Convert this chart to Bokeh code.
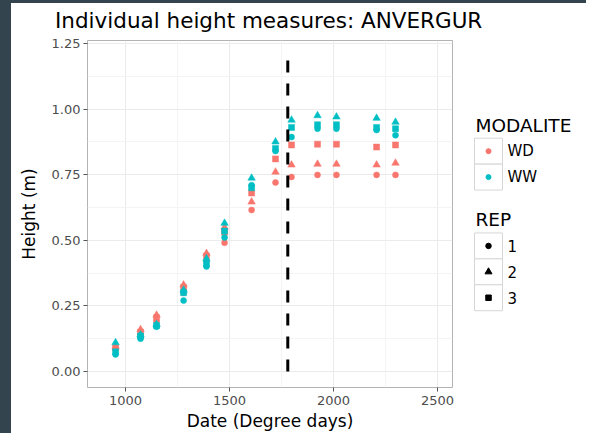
from bokeh.plotting import figure
from bokeh.layouts import row, column
from bokeh.models import Range1d, FixedTicker, PrintfTickFormatter, Div
from bokeh.core.properties import value
from bokeh.embed import file_html
from bokeh.resources import INLINE

# ---------------- data ----------------
dates = [952, 1072, 1149, 1279, 1389, 1476, 1606, 1721, 1798, 1923, 2014, 2207, 2298]

wd_rep1 = [0.085, 0.130, 0.190, 0.300, 0.420, 0.490, 0.615, 0.720, 0.741, 0.749, 0.749, 0.749, 0.749]
wd_rep2 = [0.095, 0.160, 0.215, 0.330, 0.450, 0.550, 0.646, 0.760, 0.787, 0.790, 0.790, 0.787, 0.794]
wd_rep3 = [0.090, 0.150, 0.205, 0.320, 0.440, 0.530, 0.680, 0.810, 0.863, 0.866, 0.866, 0.855, 0.863]
ww_rep1 = [0.065, 0.125, 0.170, 0.270, 0.400, 0.510, 0.710, 0.840, 0.893, 0.925, 0.925, 0.920, 0.900]
ww_rep2 = [0.110, 0.140, 0.180, 0.310, 0.430, 0.565, 0.737, 0.875, 0.958, 0.975, 0.970, 0.965, 0.950]
ww_rep3 = [0.075, 0.135, 0.175, 0.300, 0.410, 0.535, 0.700, 0.850, 0.930, 0.940, 0.940, 0.930, 0.925]

modalities = ["WD", "WW"]
reps = ["1", "2", "3"]
vline_date = 1780
vline_top = 1.2

x_ticks = [1000, 1500, 2000, 2500]
x_minor = [1250, 1750, 2250]
y_ticks = [0.0, 0.25, 0.5, 0.75, 1.0, 1.25]
y_minor = [0.125, 0.375, 0.625, 0.875, 1.125]

title_text = "Individual height measures: ANVERGUR"
x_label = "Date (Degree days)"
y_label = "Height (m)"
legend1_title = "MODALITE"
legend2_title = "REP"

# ---------------- style ----------------
COLORS = {"WD": "#F8766D", "WW": "#00BFC4"}
MARKERS = {"1": "circle", "2": "triangle", "3": "square"}
SIZES = {"1": 6, "2": 7.5, "3": 6}
FONT = "DejaVu Sans"
TXT = "#4D4D4D"
FRAME_DARK = "#34444E"
TITLE_H = 30
H_BODY = 430 - TITLE_H

p = figure(width=447, height=H_BODY, output_backend="svg", toolbar_location=None,
           title=None,
           x_range=Range1d(817, 2572), y_range=Range1d(-0.061, 1.261),
           min_border_left=76, min_border_right=6, min_border_top=7,
           min_border_bottom=45, background_fill_color="white",
           border_fill_color="white")

p.xaxis.ticker = FixedTicker(ticks=x_ticks, minor_ticks=x_minor)
p.yaxis.ticker = FixedTicker(ticks=y_ticks, minor_ticks=y_minor)
p.yaxis.formatter = PrintfTickFormatter(format="%.2f")
p.xaxis.axis_label = x_label
p.yaxis.axis_label = y_label
for ax in (p.xaxis, p.yaxis):
    ax.axis_line_color = None
    ax.minor_tick_line_color = None
    ax.major_tick_line_color = "#555555"
    ax.major_tick_in = 0
    ax.major_tick_out = 4
    ax.major_label_text_font = FONT
    ax.major_label_text_font_size = "13px"
    ax.major_label_text_color = TXT
    ax.axis_label_text_font = FONT
    ax.axis_label_text_font_size = "17px"
    ax.axis_label_text_font_style = "normal"
    ax.axis_label_text_color = "black"
p.xaxis.major_label_standoff = 4
p.yaxis.major_label_standoff = 3
p.xaxis.axis_label_standoff = 3
p.yaxis.axis_label_standoff = 10

p.grid.grid_line_color = "#EBEBEB"
p.grid.grid_line_width = 1
p.grid.minor_grid_line_color = "#F4F4F4"
p.grid.minor_grid_line_width = 1
p.outline_line_color = "#B3B3B3"
p.outline_line_width = 1

# ---------------- marks ----------------
series = {("WD", "1"): wd_rep1, ("WD", "2"): wd_rep2, ("WD", "3"): wd_rep3,
          ("WW", "1"): ww_rep1, ("WW", "2"): ww_rep2, ("WW", "3"): ww_rep3}
for (mod, rep), vals in series.items():
    p.scatter(x=dates, y=vals, marker=MARKERS[rep], size=SIZES[rep],
              fill_color=COLORS[mod], line_color=COLORS[mod], line_width=0.5)

p.segment(x0=[vline_date], y0=[0], x1=[vline_date], y1=[vline_top],
          line_color="black", line_width=3, line_dash="12 11", line_cap="butt")

# ---------------- legend panel (pixel coordinates, y up) ----------------
# its frame is aligned with the main plot's frame (picture y 40..388)
LW = 128
lf = figure(width=LW, height=H_BODY, output_backend="svg", toolbar_location=None,
            title=None, x_axis_type=None, y_axis_type=None,
            x_range=Range1d(0, LW), y_range=Range1d(45, 393),
            min_border=0, min_border_left=0, min_border_right=0,
            min_border_top=0, min_border_bottom=0,
            background_fill_color="white", border_fill_color="white")
lf.grid.visible = False
lf.outline_line_color = None

KEY_L, KEY_W, ROW_H = 16, 28, 26
LAB_X = KEY_L + KEY_W + 5
TITLE_X = KEY_L + 1


def draw_legend(title, top, labels, markers, colors, sizes):
    lf.text(x=[TITLE_X], y=[top + 13], text=[title], text_font=value(FONT),
            text_font_size="18.5px", text_color="black",
            text_align="left", text_baseline="middle")
    n = len(labels)
    tops = [top - i * ROW_H for i in range(n)]
    centers = [t - ROW_H / 2 for t in tops]
    lf.quad(left=[KEY_L] * n, right=[KEY_L + KEY_W] * n,
            top=tops, bottom=[t - ROW_H for t in tops],
            fill_color="white", line_color="#D6D6D6", line_width=1)
    for lab, mk, col, sz, cy in zip(labels, markers, colors, sizes, centers):
        lf.scatter(x=[KEY_L + KEY_W / 2], y=[cy], marker=mk, size=sz,
                   fill_color=col, line_color=col)
    lf.text(x=[LAB_X] * n, y=centers, text=labels, text_font=value(FONT),
            text_font_size="15px", text_color="black",
            text_align="left", text_baseline="middle")


draw_legend(legend1_title, 295, modalities, ["circle"] * 2,
            [COLORS[m] for m in modalities], [5, 5])
draw_legend(legend2_title, 200, reps, [MARKERS[r] for r in reps],
            ["black"] * 3, [SIZES[r] - 0.5 for r in reps])

# ---------------- title + dark framing of the reference ----------------
title_div = Div(text=title_text, width=575, height=TITLE_H, margin=0,
                styles={"font-family": "DejaVu Sans", "font-size": "21.5px",
                        "line-height": "30px", "padding-left": "44px",
                        "padding-top": "3px", "color": "black",
                        "white-space": "nowrap", "overflow": "visible",
                        "background-color": "white", "box-sizing": "border-box"})
top_bar = Div(width=586, height=3, margin=0, styles={"background-color": FRAME_DARK})
left_bar = Div(width=11, height=430, margin=0, styles={"background-color": FRAME_DARK})

layout = column(top_bar,
                row(left_bar,
                    column(title_div, row(p, lf, spacing=0), spacing=0),
                    spacing=0),
                spacing=0)
open("out.html", "w").write(file_html(layout, INLINE))
